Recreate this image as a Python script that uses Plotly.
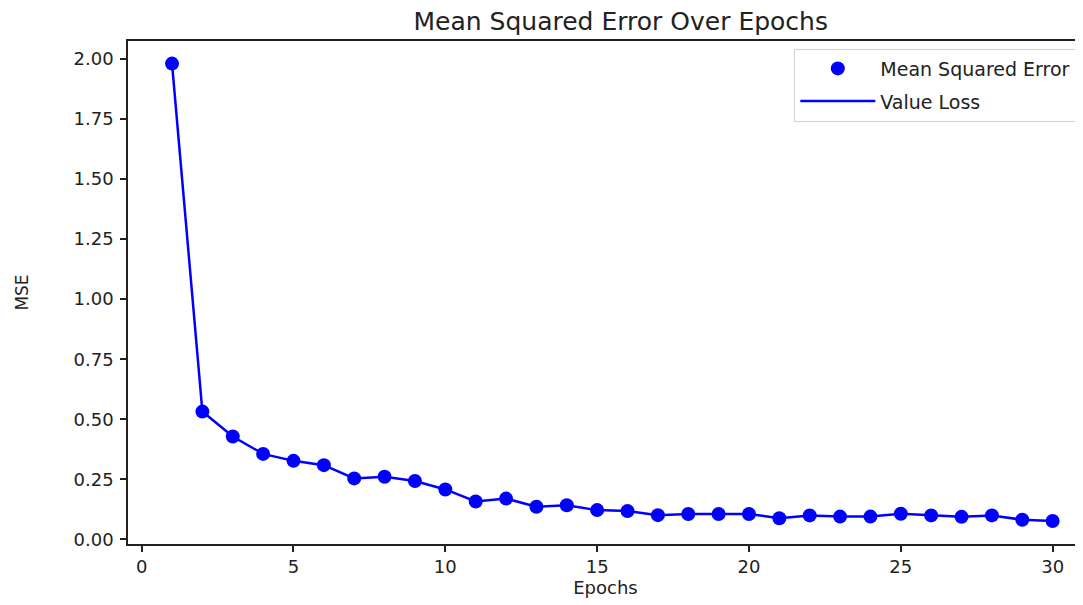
import plotly.graph_objects as go

epochs = list(range(1, 31))
mse = [1.98, 0.532, 0.428, 0.356, 0.327, 0.309, 0.254, 0.261, 0.243, 0.208,
       0.158, 0.170, 0.136, 0.142, 0.122, 0.118, 0.101, 0.106, 0.106, 0.106,
       0.088, 0.100, 0.095, 0.095, 0.107, 0.100, 0.094, 0.100, 0.082, 0.077]
value_loss = mse

x_ticks = [0, 5, 10, 15, 20, 25, 30]
y_ticks = [0.0, 0.25, 0.5, 0.75, 1.0, 1.25, 1.5, 1.75, 2.0]

blue = "#0000ff"
font = "DejaVu Sans"
ink = "#222222"

fig = go.Figure()
fig.add_trace(go.Scatter(
    x=epochs, y=mse, mode="markers", name="Mean Squared Error",
    legendgroup="a",
    marker=dict(color=blue, size=14, line=dict(width=0)),
))
fig.add_trace(go.Scatter(
    x=epochs, y=value_loss, mode="lines", name="Value Loss",
    legendgroup="b",
    line=dict(color=blue, width=2.5),
))

fig.update_layout(
    width=1075, height=597,
    margin=dict(l=120, r=0, t=33, b=61),
    paper_bgcolor="white", plot_bgcolor="white",
    font=dict(family=font, size=18, color=ink),
    title=dict(text="Mean Squared Error Over Epochs", x=0.57, xanchor="center",
               y=0.977, yanchor="middle", font=dict(size=25, color=ink)),
    showlegend=True,
    legend=dict(x=0.993, xanchor="right", y=0.985, yanchor="top",
                bgcolor="rgba(255,255,255,0.9)", bordercolor="#d0d0d0", borderwidth=1,
                font=dict(size=19), itemwidth=75, tracegroupgap=5),
    xaxis=dict(range=[-0.45, 31.0], tickvals=x_ticks, showgrid=False, zeroline=False,
               showline=True, linecolor=ink, linewidth=1.5, mirror=True,
               ticks="outside", ticklen=6, tickwidth=1.5, tickcolor=ink,
               title=dict(text="Epochs", standoff=3, font=dict(size=18))),
    yaxis=dict(range=[-0.019, 2.074], tickvals=y_ticks, tickformat=".2f",
               showgrid=False, zeroline=False,
               showline=True, linecolor=ink, linewidth=1.5, mirror=False,
               ticks="outside", ticklen=6, tickwidth=1.5, tickcolor=ink,
               ticklabelstandoff=3,
               title=dict(text="MSE", standoff=41, font=dict(size=17))),
)

fig.write_html("out.html")
